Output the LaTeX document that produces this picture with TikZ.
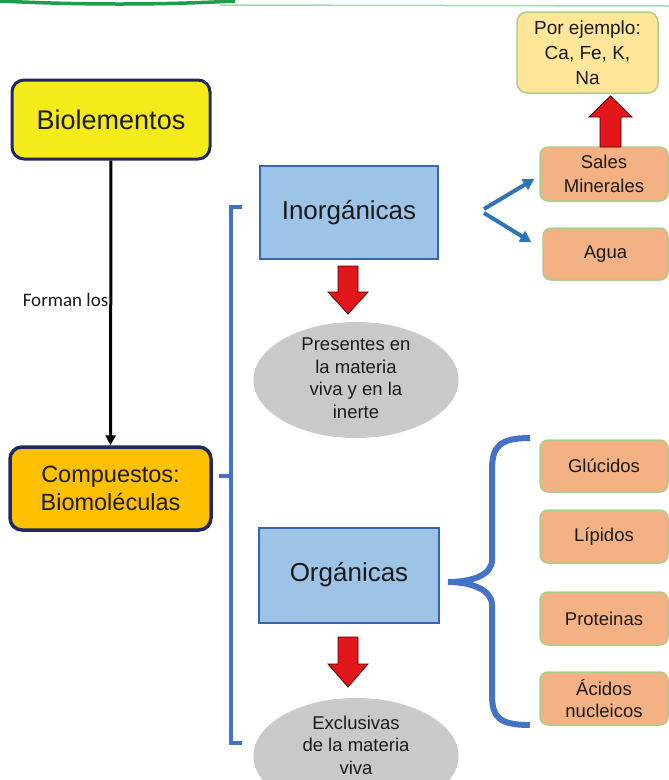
\documentclass[tikz,border=0pt]{standalone}
\usepackage{fontspec}
\setmainfont{Liberation Sans}
\newfontfamily\calib{Carlito}
\usetikzlibrary{arrows.meta,calc,shapes.geometric}
\definecolor{ybox}{HTML}{F5EB1A}
\definecolor{navy}{HTML}{1F2860}
\definecolor{obox}{HTML}{FFC000}
\definecolor{bbox}{HTML}{9DC3E6}
\definecolor{bborder}{HTML}{3A63B0}
\definecolor{brk}{HTML}{4472C4}
\definecolor{salmon}{HTML}{F4B183}
\definecolor{gborder}{HTML}{A9CF8C}
\definecolor{lyel}{HTML}{FFE699}
\definecolor{rarrow}{HTML}{E3161B}
\definecolor{ell}{HTML}{C9C9C9}
\definecolor{barrow}{HTML}{2E75B6}
\definecolor{txt}{HTML}{1A1A1A}
\definecolor{gline}{HTML}{1E9E4A}
\definecolor{glight}{HTML}{9ED9B0}
\begin{document}
\begin{tikzpicture}[x=1pt,y=-1pt,
  mainbox/.style={draw=navy, line width=3pt, rounded corners=12pt, align=center, text=txt, inner sep=0pt},
  catbox/.style={draw=bborder, line width=2pt, fill=bbox, text=txt, inner sep=0pt, font=\fontsize{26}{30}\selectfont},
  subbox/.style={draw=gborder, line width=1.5pt, fill=salmon, rounded corners=8pt, align=center, text=txt, inner sep=0pt, minimum width=128pt, font=\fontsize{18.5}{22}\selectfont},
  ellbox/.style={ellipse, fill=ell, inner sep=0pt, minimum width=205pt, minimum height=116pt},
  elltext/.style={align=center, text=txt, inner sep=0pt, font=\fontsize{18.5}{22.5}\selectfont},
  redblock/.style={fill=rarrow, draw=black!70!red, line width=0.8pt, line join=miter},
  bracketline/.style={draw=brk, line width=4pt},
  bluearrow/.style={draw=barrow, line width=4pt, -{Triangle[length=11pt,width=12pt]}}
]
\useasboundingbox (0,0) rectangle (669,780);
% top decorative lines
\draw[glight, line width=1.5pt] (220,5) -- (669,6);
\draw[gline, line width=3.5pt] (0,1) .. controls (80,5) and (160,5) .. (235,1);

% left column
\node[mainbox, fill=ybox, minimum width=198pt, minimum height=79pt, font=\fontsize{27}{30}\selectfont] (bio) at (111,119.5) {Biolementos};
\node[mainbox, fill=obox, line width=3.5pt, minimum width=201pt, minimum height=83pt, font=\fontsize{23.5}{28.5}\selectfont] (comp) at (110.5,488.5) {Compuestos:\\Biomoléculas};
\draw[black, line width=3pt, -{Triangle[length=10pt,width=10pt]}] (bio) -- node[left, pos=0.49, inner sep=1pt, font=\calib\fontsize{19}{22}\selectfont, text=txt] {Forman los} (comp);

% categories
\node[catbox, minimum width=178pt, minimum height=93pt] (inorg) at (349,212.5) {Inorgánicas};
\node[catbox, minimum width=180pt, minimum height=95pt] (org) at (349,575) {Orgánicas};
\node[ellbox] (pres) at (356,380) {};
\node[elltext] (prestxt) at (356,378) {Presentes en\\la materia\\viva y en la\\inerte};
\node[ellbox] (excl) at (356,756) {};
\node[elltext] (excltxt) at (356,745) {Exclusivas\\de la materia\\viva};

% left bracket
\coordinate (bt) at (231,207);
\coordinate (bb) at (231,743);
\coordinate (bm) at (231,476);
\draw[bracketline] (242,207) -- (bt) -- (bb) -- (242,743);
\draw[bracketline] (219,476) -- (bm);

% red block arrows down
\draw[redblock] (338,266) -- (358,266) -- (358,292) -- (368,292) -- (348,314) -- (328,292) -- (338,292) -- cycle;
\draw[redblock] (338,637) -- (358,637) -- (358,664) -- (368,664) -- (348,687) -- (328,664) -- (338,664) -- cycle;

% right upper
\node[subbox, draw=gborder, fill=lyel, rounded corners=10pt, minimum width=141pt, minimum height=81pt, font=\fontsize{19}{25}\selectfont] (ej) at (587.5,52.5) {Por ejemplo:\\Ca, Fe, K,\\Na};
\node[subbox, minimum height=54pt, font=\fontsize{18.5}{23.5}\selectfont] (sales) at (604,174) {Sales\\Minerales};
\node[subbox, minimum width=125pt, minimum height=52pt] (agua) at (605.5,254) {Agua};
\draw[redblock] (600,147) -- (621,147) -- (621,117) -- (632,117) -- (610.5,96) -- (589,117) -- (600,117) -- cycle;
\coordinate (fork) at (484,211);
\draw[bluearrow] ($(fork)+(0,-2)$) -- ($(sales.west)+(-5,5)$);
\draw[bluearrow] ($(fork)+(0,2)$) -- ($(agua.west)+(-11,-12)$);

% right lower
\node[subbox, minimum height=52pt] (glu) at (604,466) {Glúcidos};
\node[subbox, minimum height=53pt] (lip) at (604,536.5) {Lípidos};
\node[subbox, minimum height=53pt] (prot) at (604,618.5) {Proteinas};
\node[subbox, minimum height=53pt] (acid) at (604,698.5) {Ácidos\\nucleicos};
\draw[draw=brk, line width=6pt] (530,438) .. controls (500,438) and (492,446) .. (492,470) -- (492,560) .. controls (492,575) and (472,582) .. (448,582) .. controls (472,582) and (492,590) .. (492,605) -- (492,695) .. controls (492,718) and (500,725) .. (530,725);
\end{tikzpicture}
\end{document}
